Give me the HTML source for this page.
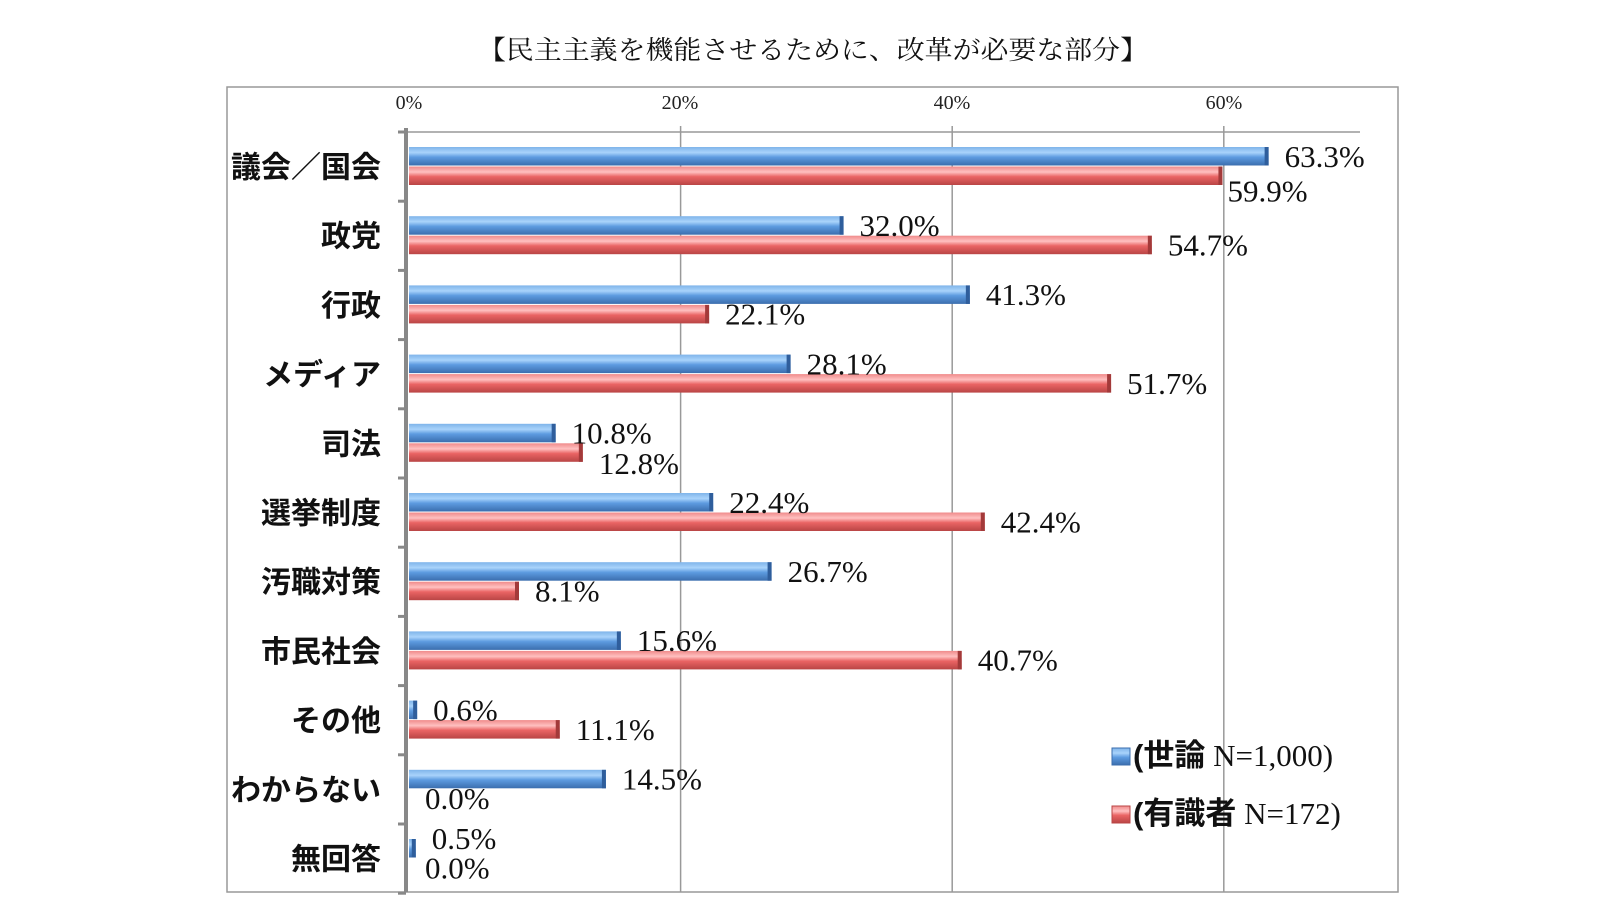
<!DOCTYPE html>
<html><head><meta charset="utf-8"><style>
html,body{margin:0;padding:0;background:#fff;}
svg{display:block;}
.cat{font-family:"Liberation Sans","Noto Sans CJK JP",sans-serif;font-weight:bold;font-size:30px;fill:#111;}
.val{font-family:"Liberation Serif","Noto Serif CJK SC",serif;font-size:31px;fill:#111;}
.tick{font-family:"Liberation Serif",serif;font-size:20px;fill:#222;}
</style></head><body>
<svg width="1600" height="900" viewBox="0 0 1600 900">
<defs>
<linearGradient id="gb" x1="0" y1="0" x2="0" y2="1">
<stop offset="0" stop-color="#7fb4ea"/><stop offset="0.3" stop-color="#a9d3fb"/><stop offset="0.55" stop-color="#5d9be0"/><stop offset="1" stop-color="#3b6eae"/></linearGradient>
<linearGradient id="gr" x1="0" y1="0" x2="0" y2="1">
<stop offset="0" stop-color="#f08a8a"/><stop offset="0.3" stop-color="#ffc0c0"/><stop offset="0.55" stop-color="#ea6464"/><stop offset="1" stop-color="#b94545"/></linearGradient>
</defs>
<text x="813" y="59" text-anchor="middle" font-family="'Liberation Serif','Noto Serif CJK SC',serif" font-size="26" textLength="670" lengthAdjust="spacingAndGlyphs" fill="#111">【民主主義を機能させるために、改革が必要な部分】</text>
<rect x="227" y="87" width="1171" height="805" fill="none" stroke="#999" stroke-width="1.5"/>
<g stroke="#999" stroke-width="1.5">
<line x1="406" y1="132" x2="1360" y2="132"/>
<line x1="680.6" y1="126" x2="680.6" y2="892"/>
<line x1="952.2" y1="126" x2="952.2" y2="892"/>
<line x1="1223.8" y1="126" x2="1223.8" y2="892"/>
</g>
<line x1="406" y1="128" x2="406" y2="892" stroke="#888" stroke-width="4"/>
<g id="ticks" stroke="#888" stroke-width="3"></g>
<g class="tick" text-anchor="middle">
<text x="409" y="109">0%</text><text x="680" y="109">20%</text><text x="952" y="109">40%</text><text x="1224" y="109">60%</text>
</g>
<g id="bars"></g>
<rect x="1112" y="748" width="18" height="17" fill="url(#gb)" stroke="#3b6eae"/>
<rect x="1112" y="806" width="18" height="17" fill="url(#gr)" stroke="#b94545"/>
<text x="1133" y="766" class="val" font-size="28"><tspan font-family="'Liberation Sans','Noto Sans CJK JP',sans-serif" font-weight="bold">(世論</tspan> N=1,000)</text>
<text x="1133" y="824" class="val" font-size="28"><tspan font-family="'Liberation Sans','Noto Sans CJK JP',sans-serif" font-weight="bold">(有識者</tspan> N=172)</text>
</svg>
<script>
var cats=["議会／国会","政党","行政","メディア","司法","選挙制度","汚職対策","市民社会","その他","わからない","無回答"];
var b=[63.3,32.0,41.3,28.1,10.8,22.4,26.7,15.6,0.6,14.5,0.5];
var r=[59.9,54.7,22.1,51.7,12.8,42.4,8.1,40.7,11.1,0.0,0.0];
var bdy=[0,0,0,0,0,0,0,0,0,0,-10];
var rdy=[15,0,0,0,11,0,0,0,0,0,0];
var rdx=[5,16,16,16,16,16,16,16,16,16,16];
var ns="http://www.w3.org/2000/svg";
var g=document.getElementById("bars"),tk=document.getElementById("ticks");
function el(t,a,p){var e=document.createElementNS(ns,t);for(var k in a)e.setAttribute(k,a[k]);(p||g).appendChild(e);return e;}
var X0=409,S=13.58,P=69.2,H=19.5;
for(var i=0;i<=11;i++){var ty=132+P*i;el("line",{x1:398,y1:ty,x2:406,y2:ty},tk);}
for(var i=0;i<11;i++){
 var yb=147+P*i, yr=yb+H;
 var wb=b[i]*S, wr=r[i]*S;
 if(wb>0){el("rect",{x:X0,y:yb,width:wb,height:H-1,fill:"url(#gb)"});el("rect",{x:X0+wb-4,y:yb,width:4,height:H-1,fill:"#2f5e9c"});}
 if(wr>0){el("rect",{x:X0,y:yr,width:wr,height:H-1,fill:"url(#gr)"});el("rect",{x:X0+wr-4,y:yr,width:4,height:H-1,fill:"#a33a3a"});}
 var t=el("text",{x:X0+wb+16,y:yb+H/2+bdy[i]+10,"class":"val"});t.textContent=b[i].toFixed(1)+"%";
 t=el("text",{x:X0+wr+rdx[i],y:yr+H/2+rdy[i]+10,"class":"val"});t.textContent=r[i].toFixed(1)+"%";
 t=el("text",{x:381,y:yr+11,"class":"cat","text-anchor":"end"});t.textContent=cats[i];
}
</script>
</body></html>
